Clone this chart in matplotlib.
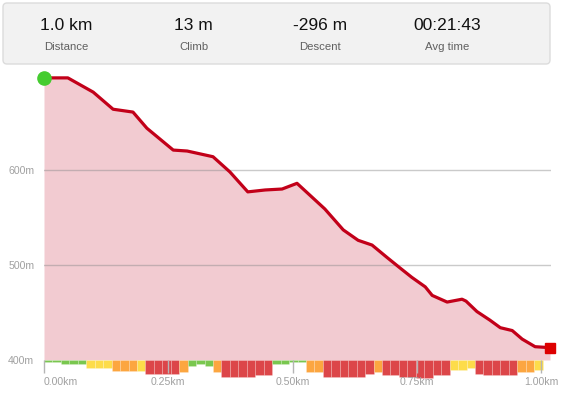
import matplotlib
matplotlib.use("Agg")
import matplotlib.pyplot as plt
from matplotlib.patches import FancyBboxPatch

plt.rcParams['font.family'] = ['Liberation Sans', 'DejaVu Sans']

# summary header
stat_values = ["1.0 km", "13 m", "-296 m", "00:21:43"]
stat_names = ["Distance", "Climb", "Descent", "Avg time"]

# elevation profile (km, m)
dist = [0.000, 0.048, 0.099, 0.139, 0.179, 0.207, 0.260, 0.288, 0.314, 0.340,
        0.374, 0.410, 0.445, 0.479, 0.509, 0.565, 0.602, 0.632, 0.660, 0.690,
        0.716, 0.740, 0.767, 0.781, 0.811, 0.841, 0.849, 0.871, 0.897, 0.918,
        0.942, 0.962, 0.988, 1.018]
elev = [697, 697, 682, 664, 661, 644, 621, 620, 617, 614,
        598, 577, 579, 580, 586, 559, 537, 526, 521, 508,
        497, 487, 477, 468, 461, 464, 462, 451, 442, 434,
        431, 422, 414, 413]

total_km = 1.02

# gradient strip under the profile: class and depth (m below 400m line)
grade_class = ['g', 'g', 'g', 'g', 'g', 'y', 'y', 'y', 'o', 'o',
               'o', 'y', 'r', 'r', 'r', 'r', 'o', 'g', 'g', 'g',
               'o', 'r', 'r', 'r', 'r', 'r', 'r', 'g', 'g', 'g',
               'g', 'o', 'o', 'r', 'r', 'r', 'r', 'r', 'r', 'o',
               'r', 'r', 'r', 'r', 'r', 'r', 'r', 'r', 'y', 'y',
               'y', 'r', 'r', 'r', 'r', 'r', 'o', 'o', 'y', 'g']
grade_depth = [1.8, 1.8, 4.7, 4.7, 4.7, 8.4, 8.4, 8.4, 12, 12,
               12, 12, 14.7, 14.7, 14.7, 14.7, 13, 6.3, 4.7, 6.8,
               13, 17.4, 17.4, 17.4, 17.4, 15.8, 15.8, 4.7, 4.7, 1.8,
               1.8, 13, 13, 17.4, 17.4, 17.9, 17.9, 17.4, 14.7, 13,
               15.8, 15.8, 17.9, 17.9, 19, 19, 15.8, 15.8, 10.5, 10.5,
               8.4, 14.7, 15.8, 15.8, 15.8, 15.8, 13, 13, 10.5, 0]
grade_colors = {'g': '#79c74f', 'y': '#fddc4a', 'o': '#fca640', 'r': '#dc4649'}

x_ticks = [0, 0.25, 0.5, 0.75, 1.0]
x_labels = ["0.00km", "0.25km", "0.50km", "0.75km", "1.00km"]
y_ticks = [400, 500, 600]
y_labels = ["400m", "500m", "600m"]

fig = plt.figure(figsize=(5.64, 3.98), dpi=100)

# header box, drawn in pixel units
head = fig.add_axes([0, 0, 1, 1])
head.set_xlim(0, 564)
head.set_ylim(398, 0)
head.axis('off')
head.add_patch(FancyBboxPatch((3, 3), 547, 61, boxstyle="round,pad=0,rounding_size=4",
                              facecolor='#f2f2f2', edgecolor='#dcdcdc', lw=1))
for i in range(4):
    cx = 3 + 127 * i + 63.5
    head.text(cx, 25, stat_values[i], ha='center', va='center', fontsize=12.5, color='#111111')
    head.text(cx, 47, stat_names[i], ha='center', va='center', fontsize=8.2, color='#606060')

ax = fig.add_axes([44 / 564, (398 - 360) / 398, 507 / 564, 290 / 398])
ax.set_xlim(0, total_km)
ax.set_ylim(400, 705.3)

ax.fill_between(dist, elev, 400, color='#f2cbd1', lw=0, zorder=1)
for y in [500, 600]:
    ax.axhline(y, color='#8a8a8a', alpha=0.45, lw=1, zorder=2)
ax.plot(dist, elev, color='#c20019', lw=2.3, solid_joinstyle='round', zorder=3)
ax.plot(dist[0], elev[0], 'o', ms=9.5, color='#45cc30', clip_on=False, zorder=4)
ax.plot(dist[-1], elev[-1], 's', ms=7.5, color='#dd0000', clip_on=False, zorder=4)

seg_w = total_km / len(grade_class)
for i in range(len(grade_class)):
    if grade_depth[i] == 0:
        continue
    ax.bar(i * seg_w, -grade_depth[i], seg_w, bottom=400, align='edge',
           color=grade_colors[grade_class[i]], edgecolor=(1, 1, 1, 0.3), lw=0.4,
           clip_on=False, zorder=1)

for s in ax.spines.values():
    s.set_visible(False)

ax.set_xticks(x_ticks)
ax.set_xticklabels(x_labels)
ax.tick_params(axis='x', length=9, width=1, color='#b5b5b5', pad=3,
               labelsize=7.6, labelcolor='#a0a0a0')
ax.get_xticklabels()[0].set_horizontalalignment('left')
ax.set_yticks(y_ticks)
ax.set_yticklabels(y_labels)
ax.tick_params(axis='y', length=0, pad=7, labelsize=7.6, labelcolor='#a0a0a0')

fig.savefig("out.png", dpi=100)
